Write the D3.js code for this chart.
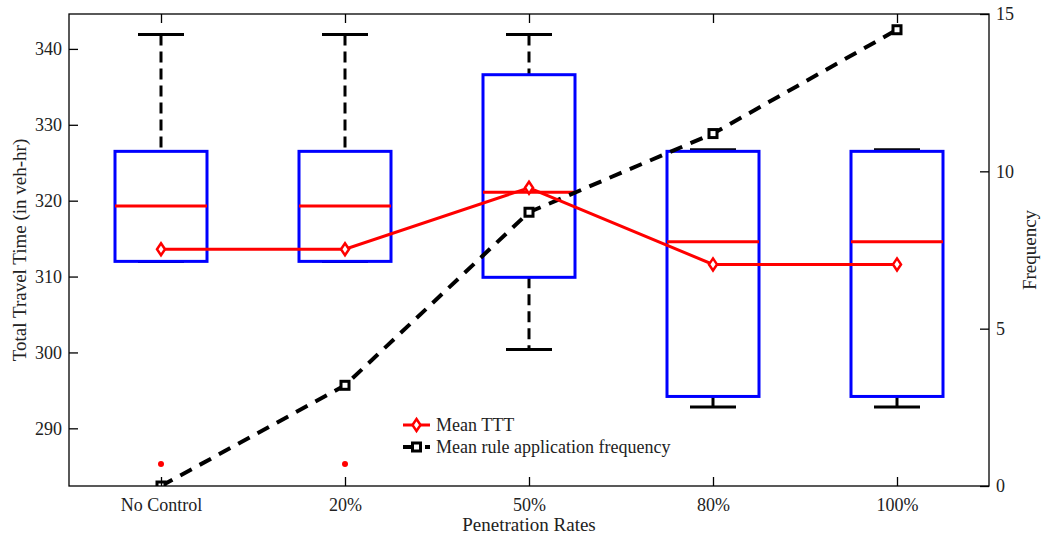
<!DOCTYPE html>
<html>
<head>
<meta charset="utf-8">
<script src="https://cdn.jsdelivr.net/npm/d3@7"></script>
<style>
  body { margin: 0; background: #fff; }
  svg text { font-family: "Liberation Serif", "Times New Roman", serif; fill: #222; }
</style>
</head>
<body>
<svg id="chart" width="1042" height="539"></svg>
<script>
// values
const categories = ["No Control", "20%", "50%", "80%", "100%"];
const whiskerHigh = [341.9, 341.9, 341.9, 326.7, 326.7];
const q3 = [326.5, 326.5, 336.6, 326.5, 326.5];
const medians = [319.3, 319.3, 321.1, 314.6, 314.6];
const q1 = [312.0, 312.0, 309.9, 294.2, 294.2];
const whiskerLow = [312.0, 312.0, 300.4, 292.8, 292.8];
const outliers = [[285.3], [285.3], [], [], []];
const meanTTT = [313.6, 313.6, 321.7, 311.6, 311.6];
const meanFreq = [0, 3.2, 8.7, 11.2, 14.5];
const leftTicks = [290, 300, 310, 320, 330, 340];
const rightTicks = [0, 5, 10, 15];

const ctx = { left: 69, right: 989, top: 14, bottom: 486 };
const svg = d3.select("#chart");

/* scales */
let xScale = d3.scalePoint()
    .domain(categories)
    .range([ctx.left, ctx.right])
    .padding(0.5);
let step = xScale.step();
let yScale = d3.scaleLinear()
    .domain([282.4, 344.6])
    .range([ctx.bottom, ctx.top]);
let y2Scale = d3.scaleLinear()
    .domain([0, 15])
    .range([ctx.bottom, ctx.top]);

svg.append("defs").append("clipPath").attr("id", "plotclip")
    .append("rect")
    .attr("x", ctx.left).attr("y", ctx.top)
    .attr("width", ctx.right - ctx.left).attr("height", ctx.bottom - ctx.top);

let plot = svg.append("g").attr("clip-path", "url(#plotclip)");

let boxData = categories.map((c, i) => ({
    cat: c, hi: whiskerHigh[i], q3: q3[i], med: medians[i], q1: q1[i], lo: whiskerLow[i], out: outliers[i]
}));

/* whiskers */
let boxes = plot.selectAll("g.box").data(boxData).join("g").attr("class", "box");
boxes.append("line")
    .attr("x1", d => xScale(d.cat)).attr("x2", d => xScale(d.cat))
    .attr("y1", d => yScale(d.hi)).attr("y2", d => yScale(d.q3))
    .attr("stroke", "#000").attr("stroke-width", 3).attr("stroke-dasharray", "11,6");
boxes.append("line")
    .attr("x1", d => xScale(d.cat)).attr("x2", d => xScale(d.cat))
    .attr("y1", d => yScale(d.q1)).attr("y2", d => yScale(d.lo))
    .attr("stroke", "#000").attr("stroke-width", 3).attr("stroke-dasharray", "11,6");
boxes.append("line")
    .attr("x1", d => xScale(d.cat) - step / 8).attr("x2", d => xScale(d.cat) + step / 8)
    .attr("y1", d => yScale(d.hi)).attr("y2", d => yScale(d.hi))
    .attr("stroke", "#000").attr("stroke-width", 3);
boxes.append("line")
    .attr("x1", d => xScale(d.cat) - step / 8).attr("x2", d => xScale(d.cat) + step / 8)
    .attr("y1", d => yScale(d.lo)).attr("y2", d => yScale(d.lo))
    .attr("stroke", "#000").attr("stroke-width", 3);

/* boxes */
boxes.append("rect")
    .attr("x", d => xScale(d.cat) - step / 4)
    .attr("width", step / 2)
    .attr("y", d => yScale(d.q3))
    .attr("height", d => yScale(d.q1) - yScale(d.q3))
    .attr("fill", "none").attr("stroke", "#0000ff").attr("stroke-width", 3);
boxes.append("line")
    .attr("x1", d => xScale(d.cat) - step / 4).attr("x2", d => xScale(d.cat) + step / 4)
    .attr("y1", d => yScale(d.med)).attr("y2", d => yScale(d.med))
    .attr("stroke", "#ff0000").attr("stroke-width", 3);
boxes.selectAll("circle.out").data(d => d.out.map(v => ({ cat: d.cat, v: v })))
    .join("circle").attr("class", "out")
    .attr("cx", d => xScale(d.cat)).attr("cy", d => yScale(d.v))
    .attr("r", 3).attr("fill", "#ff0000");

/* mean rule application frequency (right axis) */
let freqLine = d3.line()
    .x((d, i) => xScale(categories[i]))
    .y(d => y2Scale(d));
plot.append("path")
    .datum(meanFreq)
    .attr("d", freqLine)
    .attr("fill", "none").attr("stroke", "#000").attr("stroke-width", 4)
    .attr("stroke-dasharray", "13,9");
plot.selectAll("rect.fmark").data(meanFreq).join("rect").attr("class", "fmark")
    .attr("x", (d, i) => xScale(categories[i]) - 4)
    .attr("y", d => y2Scale(d) - 4)
    .attr("width", 8).attr("height", 8)
    .attr("fill", "#fff").attr("stroke", "#000").attr("stroke-width", 3);

/* mean TTT (left axis) */
let meanLine = d3.line()
    .x((d, i) => xScale(categories[i]))
    .y(d => yScale(d));
plot.append("path")
    .datum(meanTTT)
    .attr("d", meanLine)
    .attr("fill", "none").attr("stroke", "#ff0000").attr("stroke-width", 3);
let diamond = "M0,-6 L4,0 L0,6 L-4,0 Z";
plot.selectAll("path.mmark").data(meanTTT).join("path").attr("class", "mmark")
    .attr("d", diamond)
    .attr("transform", (d, i) => "translate(" + xScale(categories[i]) + "," + yScale(d) + ")")
    .attr("fill", "#fff").attr("stroke", "#ff0000").attr("stroke-width", 2.5);

/* frame */
svg.append("rect")
    .attr("x", ctx.left).attr("y", ctx.top)
    .attr("width", ctx.right - ctx.left).attr("height", ctx.bottom - ctx.top)
    .attr("fill", "none").attr("stroke", "#000").attr("stroke-width", 1.3);

/* axes */
function styleAxis(g) {
    g.select(".domain").remove();
    g.selectAll(".tick line").attr("stroke", "#000").attr("stroke-width", 1.3);
    g.selectAll(".tick text").attr("font-size", 18).attr("fill", "#222")
        .attr("font-family", "Liberation Serif");
}
svg.append("g")
    .attr("transform", "translate(0," + ctx.bottom + ")")
    .call(d3.axisBottom(xScale).tickSize(-9).tickPadding(12))
    .call(styleAxis);
svg.append("g")
    .attr("transform", "translate(0," + ctx.top + ")")
    .call(d3.axisTop(xScale).tickSize(-9).tickFormat(""))
    .call(styleAxis);
svg.append("g")
    .attr("transform", "translate(" + ctx.left + ",0)")
    .call(d3.axisLeft(yScale).tickValues(leftTicks).tickSize(-9).tickPadding(7))
    .call(styleAxis);
svg.append("g")
    .attr("transform", "translate(" + ctx.right + ",0)")
    .call(d3.axisRight(y2Scale).tickValues(rightTicks).tickSize(-9).tickPadding(7))
    .call(styleAxis);

/* axis titles */
svg.append("text")
    .attr("transform", "translate(26," + (ctx.top + ctx.bottom) / 2 + ") rotate(-90)")
    .attr("text-anchor", "middle").attr("font-size", 19)
    .text("Total Travel Time (in veh-hr)");
svg.append("text")
    .attr("transform", "translate(1036," + (ctx.top + ctx.bottom) / 2 + ") rotate(-90)")
    .attr("text-anchor", "middle").attr("font-size", 19)
    .text("Frequency");
svg.append("text")
    .attr("x", (ctx.left + ctx.right) / 2).attr("y", 531)
    .attr("text-anchor", "middle").attr("font-size", 19)
    .text("Penetration Rates");

/* legend */
let legend = svg.append("g").attr("transform", "translate(403,425)");
legend.append("line").attr("x1", 0).attr("x2", 27).attr("y1", 0).attr("y2", 0)
    .attr("stroke", "#ff0000").attr("stroke-width", 3);
legend.append("path").attr("d", diamond).attr("transform", "translate(13.5,0)")
    .attr("fill", "#fff").attr("stroke", "#ff0000").attr("stroke-width", 2.5);
legend.append("text").attr("x", 33).attr("y", 6).attr("font-size", 18).text("Mean TTT");
legend.append("line").attr("x1", 0).attr("x2", 27).attr("y1", 22).attr("y2", 22)
    .attr("stroke", "#000").attr("stroke-width", 4).attr("stroke-dasharray", "13,9");
legend.append("rect").attr("x", 9.5).attr("y", 18).attr("width", 8).attr("height", 8)
    .attr("fill", "#fff").attr("stroke", "#000").attr("stroke-width", 3);
legend.append("text").attr("x", 33).attr("y", 28).attr("font-size", 18).text("Mean rule application frequency");
</script>
</body>
</html>
